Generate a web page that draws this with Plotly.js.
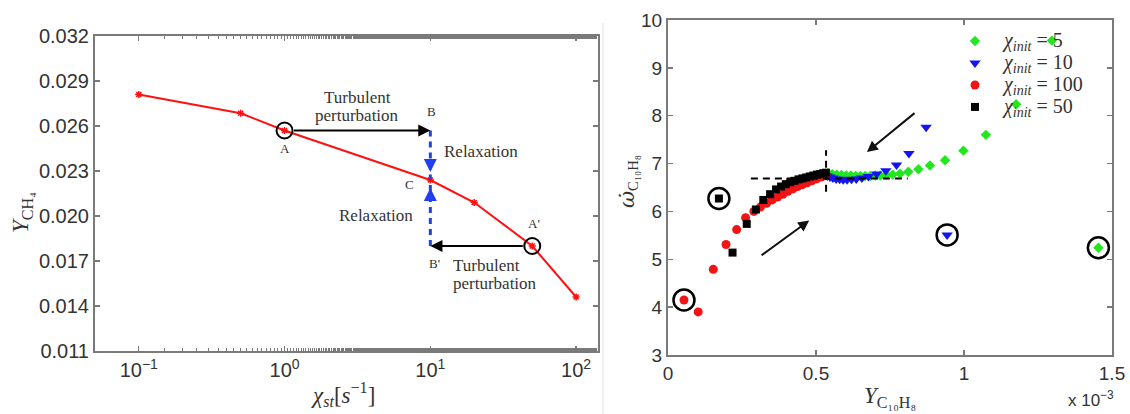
<!DOCTYPE html>
<html>
<head>
<meta charset="utf-8">
<script src="https://cdn.plot.ly/plotly-3.0.1.min.js"></script>
<style>
html,body{margin:0;padding:0;background:#fff;}
#chart{width:1130px;height:414px;}
</style>
</head>
<body>
<div id="chart"></div>
<script>
// ---------- Left panel data ----------
const chiSt = [0.1, 0.5, 1, 10, 20, 50, 100];
const yCH4  = [0.0281, 0.02685, 0.0257, 0.0224, 0.0209, 0.0180, 0.0146];
const leftYTicks = [0.011, 0.014, 0.017, 0.020, 0.023, 0.026, 0.029, 0.032];
const leftXTicks = [0.1, 1, 10, 100];
const leftXTickText = ['10<sup>−1</sup>', '10<sup>0</sup>', '10<sup>1</sup>', '10<sup>2</sup>'];

// ---------- Right panel data (x in units of 1e-3) ----------
const x5   = [1.454, 1.297, 1.176, 1.074, 0.998, 0.936, 0.885, 0.846, 0.812, 0.784, 0.759, 0.737, 0.717, 0.700, 0.683, 0.666, 0.650, 0.634, 0.618, 0.602, 0.586, 0.570, 0.555, 0.540];
const y5   = [5.24, 9.57, 8.24, 7.60, 7.27, 7.07, 6.96, 6.88, 6.83, 6.79, 6.77, 6.76, 6.75, 6.75, 6.74, 6.74, 6.74, 6.74, 6.75, 6.75, 6.76, 6.77, 6.78, 6.80];
const x10  = [0.943, 0.872, 0.814, 0.772, 0.736, 0.705, 0.677, 0.655, 0.636, 0.620, 0.605, 0.592, 0.580, 0.568, 0.557, 0.547, 0.538];
const y10  = [5.51, 7.76, 7.21, 6.97, 6.85, 6.78, 6.73, 6.70, 6.68, 6.67, 6.66, 6.66, 6.67, 6.68, 6.70, 6.72, 6.74];
const x100 = [0.054, 0.102, 0.153, 0.196, 0.232, 0.262, 0.290, 0.312, 0.333, 0.352, 0.370, 0.388, 0.405, 0.422, 0.438, 0.454, 0.470, 0.486, 0.502, 0.518, 0.534];
const y100 = [4.15, 3.90, 4.79, 5.31, 5.62, 5.87, 6.00, 6.09, 6.17, 6.24, 6.30, 6.36, 6.42, 6.47, 6.52, 6.56, 6.60, 6.64, 6.68, 6.72, 6.76];
const x50  = [0.172, 0.218, 0.266, 0.297, 0.322, 0.345, 0.365, 0.382, 0.398, 0.413, 0.427, 0.441, 0.454, 0.467, 0.479, 0.491, 0.503, 0.514, 0.525, 0.534];
const y50  = [6.27, 5.14, 5.74, 6.04, 6.24, 6.36, 6.46, 6.52, 6.57, 6.61, 6.64, 6.67, 6.69, 6.71, 6.73, 6.75, 6.77, 6.78, 6.80, 6.81];
const seriesNames = ['5', '10', '100', '50'];
const rightXTicks = [0, 0.5, 1, 1.5];
const rightXTickText = ['0', '0.5', '1', '1.5'];
const rightYTicks = [3, 4, 5, 6, 7, 8, 9, 10];
// guide lines and arrows (data coordinates)
const guideHx = [0.28, 0.81], guideHy = [6.69, 6.69];
const guideVx = [0.534, 0.534], guideVy = [6.41, 7.28];
const arrowUpFrom = [0.311, 5.06], arrowUpTo = [0.477, 5.81];
const arrowDownFrom = [0.838, 8.08], arrowDownTo = [0.672, 7.24];

// ---------- Layout geometry ----------
const W = 1130, H = 414;
const px = v => v / W, py = v => 1 - v / H;
const serif = '"Liberation Serif", "DejaVu Serif", serif';
const sans = '"Liberation Sans", Arial, sans-serif';
const axisGray = '#7a7a7a';
const txtGray = '#333';
const L = Math.log10;

const iA = 2, iC = 3, iA2 = 5;
const A = [chiSt[iA], yCH4[iA]];
const C = [chiSt[iC], yCH4[iC]];
const A2 = [chiSt[iA2], yCH4[iA2]];
const B = [chiSt[iC], yCH4[iA]];
const B2 = [chiSt[iC], yCH4[iA2]];

const chiInit = '<i>χ<sub>init</sub></i> = ';
const legendTop = 41, legendRow = 22;

const traces = [
  {x: chiSt, y: yCH4, xaxis: 'x', yaxis: 'y', mode: 'lines+markers', showlegend: false,
   line: {color: '#ff1010', width: 2},
   marker: {symbol: 'asterisk-open', size: 6, color: '#ff1010', line: {color: '#ff1010', width: 1.5}}},
  {x: [B[0], C[0]], y: [B[1], C[1]], xaxis: 'x', yaxis: 'y', mode: 'lines', showlegend: false,
   line: {color: '#1f3ff0', width: 3, dash: '6px,5px'}},
  {x: [B2[0], C[0]], y: [B2[1], C[1]], xaxis: 'x', yaxis: 'y', mode: 'lines', showlegend: false,
   line: {color: '#1f3ff0', width: 3, dash: '6px,5px'}},
  {x: [A[0], A2[0]], y: [A[1], A2[1]], xaxis: 'x', yaxis: 'y', mode: 'markers', showlegend: false,
   marker: {symbol: 'circle-open', size: 16, color: '#000', line: {width: 2, color: '#000'}}},

  {x: x5, y: y5, xaxis: 'x2', yaxis: 'y2', mode: 'markers', name: ' ',
   marker: {symbol: 'diamond', size: 8, color: '#22e61e'}},
  {x: x10, y: y10, xaxis: 'x2', yaxis: 'y2', mode: 'markers', name: '  ',
   marker: {symbol: 'triangle-down', size: 10, color: '#1414f0'}},
  {x: x100, y: y100, xaxis: 'x2', yaxis: 'y2', mode: 'markers', name: '   ',
   marker: {symbol: 'circle', size: 9, color: '#f01414'}},
  {x: x50, y: y50, xaxis: 'x2', yaxis: 'y2', mode: 'markers', name: '    ',
   marker: {symbol: 'square', size: 8, color: '#000'}},
  {x: [x5[0], x10[0], x100[0], x50[0]], y: [y5[0], y10[0], y100[0], y50[0]], xaxis: 'x2', yaxis: 'y2',
   mode: 'markers', showlegend: false,
   marker: {symbol: 'circle-open', size: 21, color: '#000', line: {width: 2.5, color: '#000'}}},
  {x: guideHx, y: guideHy, xaxis: 'x2', yaxis: 'y2', mode: 'lines', showlegend: false,
   line: {color: '#000', width: 2, dash: '7px,5px'}},
  {x: guideVx, y: guideVy, xaxis: 'x2', yaxis: 'y2', mode: 'lines', showlegend: false,
   line: {color: '#000', width: 2, dash: '7px,5px'}}
];

function lbl(x, y, text, xs, ys, size, font) {
  return {xref: 'x', yref: 'y', x: x, y: y, text: text, showarrow: false, xshift: xs, yshift: ys,
          xanchor: 'center', yanchor: 'middle',
          font: {family: font || serif, size: size || 14, color: txtGray}};
}
function ptxt(x, y, text, size, font, angle, xa) {
  return {xref: 'paper', yref: 'paper', x: px(x), y: py(y), text: text, showarrow: false,
          xanchor: xa || 'center', yanchor: 'middle', textangle: angle || 0,
          font: {family: font || serif, size: size, color: txtGray}};
}

const midAB = (L(A[0]) + L(B[0])) / 2;
const midA2B2 = (L(A2[0]) + L(B2[0])) / 2;
const annotations = [
  {xref: 'x', yref: 'y', axref: 'x', ayref: 'y', x: L(B[0]), y: B[1], ax: L(A[0]), ay: A[1],
   showarrow: true, arrowhead: 2, arrowsize: 1.1, arrowwidth: 2.2, arrowcolor: '#000', startstandoff: 8, text: ''},
  {xref: 'x', yref: 'y', axref: 'x', ayref: 'y', x: L(B2[0]), y: B2[1], ax: L(A2[0]), ay: A2[1],
   showarrow: true, arrowhead: 2, arrowsize: 1.1, arrowwidth: 2.2, arrowcolor: '#000', startstandoff: 8, text: ''},
  {xref: 'x', yref: 'y', x: L(C[0]), y: C[1], ax: 0, ay: -14, showarrow: true, arrowhead: 2, arrowsize: 1,
   arrowwidth: 2.6, arrowcolor: '#1f3ff0', standoff: 8, text: ''},
  {xref: 'x', yref: 'y', x: L(C[0]), y: C[1], ax: 0, ay: 14, showarrow: true, arrowhead: 2, arrowsize: 1,
   arrowwidth: 2.6, arrowcolor: '#1f3ff0', standoff: 8, text: ''},
  lbl(L(A[0]), A[1], 'A', 0, -18, 13),
  lbl(L(B[0]), B[1], 'B', 1, 19, 13),
  lbl(L(C[0]), C[1], 'C', -21, -5, 13),
  lbl(L(A2[0]), A2[1], "A'", 2, 22, 13),
  lbl(L(B2[0]), B2[1], "B'", 4, -17, 13),
  lbl(midAB, A[1], 'Turbulent', 0, 33, 17),
  lbl(midAB, A[1], 'perturbation', 0, 15, 17),
  lbl(midA2B2, A2[1], 'Turbulent', 5, -19, 17),
  lbl(midA2B2, A2[1], 'perturbation', 14, -37, 17),
  lbl(L(B[0]), (B[1] + C[1]) / 2, 'Relaxation', 51, 4, 17),
  lbl(L(B2[0]), (B2[1] + C[1]) / 2, 'Relaxation', -54, -3, 17),
  {xref: 'x2', yref: 'y2', axref: 'x2', ayref: 'y2', x: arrowUpTo[0], y: arrowUpTo[1], ax: arrowUpFrom[0], ay: arrowUpFrom[1],
   showarrow: true, arrowhead: 2, arrowsize: 1.1, arrowwidth: 2, arrowcolor: '#111', text: ''},
  {xref: 'x2', yref: 'y2', axref: 'x2', ayref: 'y2', x: arrowDownTo[0], y: arrowDownTo[1], ax: arrowDownFrom[0], ay: arrowDownFrom[1],
   showarrow: true, arrowhead: 2, arrowsize: 1.1, arrowwidth: 2, arrowcolor: '#111', text: ''},
  ptxt(343, 394, '<i>χ<sub>st</sub></i>[<i>s</i><sup>−1</sup>]', 23),
  ptxt(22, 213, '<i>Y</i><sub>CH₄</sub>', 23, serif, -90),
  ptxt(890, 397, '<i>Y</i><sub>C₁₀H₈</sub>', 23),
  ptxt(628, 182, '<span style="font-family:DejaVu Serif"><i>ω̇</i></span><sub>C₁₀H₈</sub>', 21, serif, -90),
  ptxt(1116, 399, 'x 10<sup>−3</sup>', 17, sans, 0, 'right')
];
seriesNames.forEach((n, i) => {
  annotations.push(ptxt(1000, legendTop + i * legendRow, chiInit + n, 20, serif, 0, 'left'));
});

const axBase = {
  showline: true, linecolor: axisGray, linewidth: 2, mirror: 'ticks', ticks: 'inside', ticklen: 5,
  tickcolor: axisGray, tickwidth: 1.5, showgrid: false, zeroline: false,
  tickfont: {family: sans, size: 20, color: txtGray}
};

const layout = {
  width: W, height: H, margin: {l: 0, r: 0, t: 0, b: 0},
  paper_bgcolor: '#fff', plot_bgcolor: '#fff',
  showlegend: true,
  legend: {x: px(955), y: py(25), xanchor: 'left', yanchor: 'top', bgcolor: 'rgba(0,0,0,0)',
           font: {family: serif, size: 14.6, color: txtGray}, tracegroupgap: 0, itemwidth: 30},
  xaxis: Object.assign({}, axBase, {type: 'log', domain: [px(95), px(598)], range: [-1.30, 2.15],
          tickvals: leftXTicks, ticktext: leftXTickText, anchor: 'y',
          minor: {ticks: 'inside', ticklen: 3, tickcolor: axisGray, tickwidth: 1, showgrid: false}}),
  yaxis: Object.assign({}, axBase, {domain: [1 - 351 / H, 1 - 36 / H], range: [0.011, 0.032],
          tickvals: leftYTicks, tickformat: '.3f', anchor: 'x'}),
  xaxis2: Object.assign({}, axBase, {domain: [px(668), px(1112)], range: [0, 1.5],
          tickvals: rightXTicks, ticktext: rightXTickText, anchor: 'y2', tickfont: {family: sans, size: 19, color: txtGray}}),
  yaxis2: Object.assign({}, axBase, {domain: [1 - 355 / H, 1 - 20 / H], range: [3, 10],
          tickvals: rightYTicks, anchor: 'x2', tickfont: {family: sans, size: 19, color: txtGray}}),
  annotations: annotations,
  shapes: [
    {type: 'line', xref: 'paper', yref: 'paper', x0: px(603), x1: px(603), y0: py(23), y1: 0,
     line: {color: '#e2e2e2', width: 1}}
  ]
};

Plotly.newPlot('chart', traces, layout, {displayModeBar: false, staticPlot: true});
</script>
</body>
</html>
